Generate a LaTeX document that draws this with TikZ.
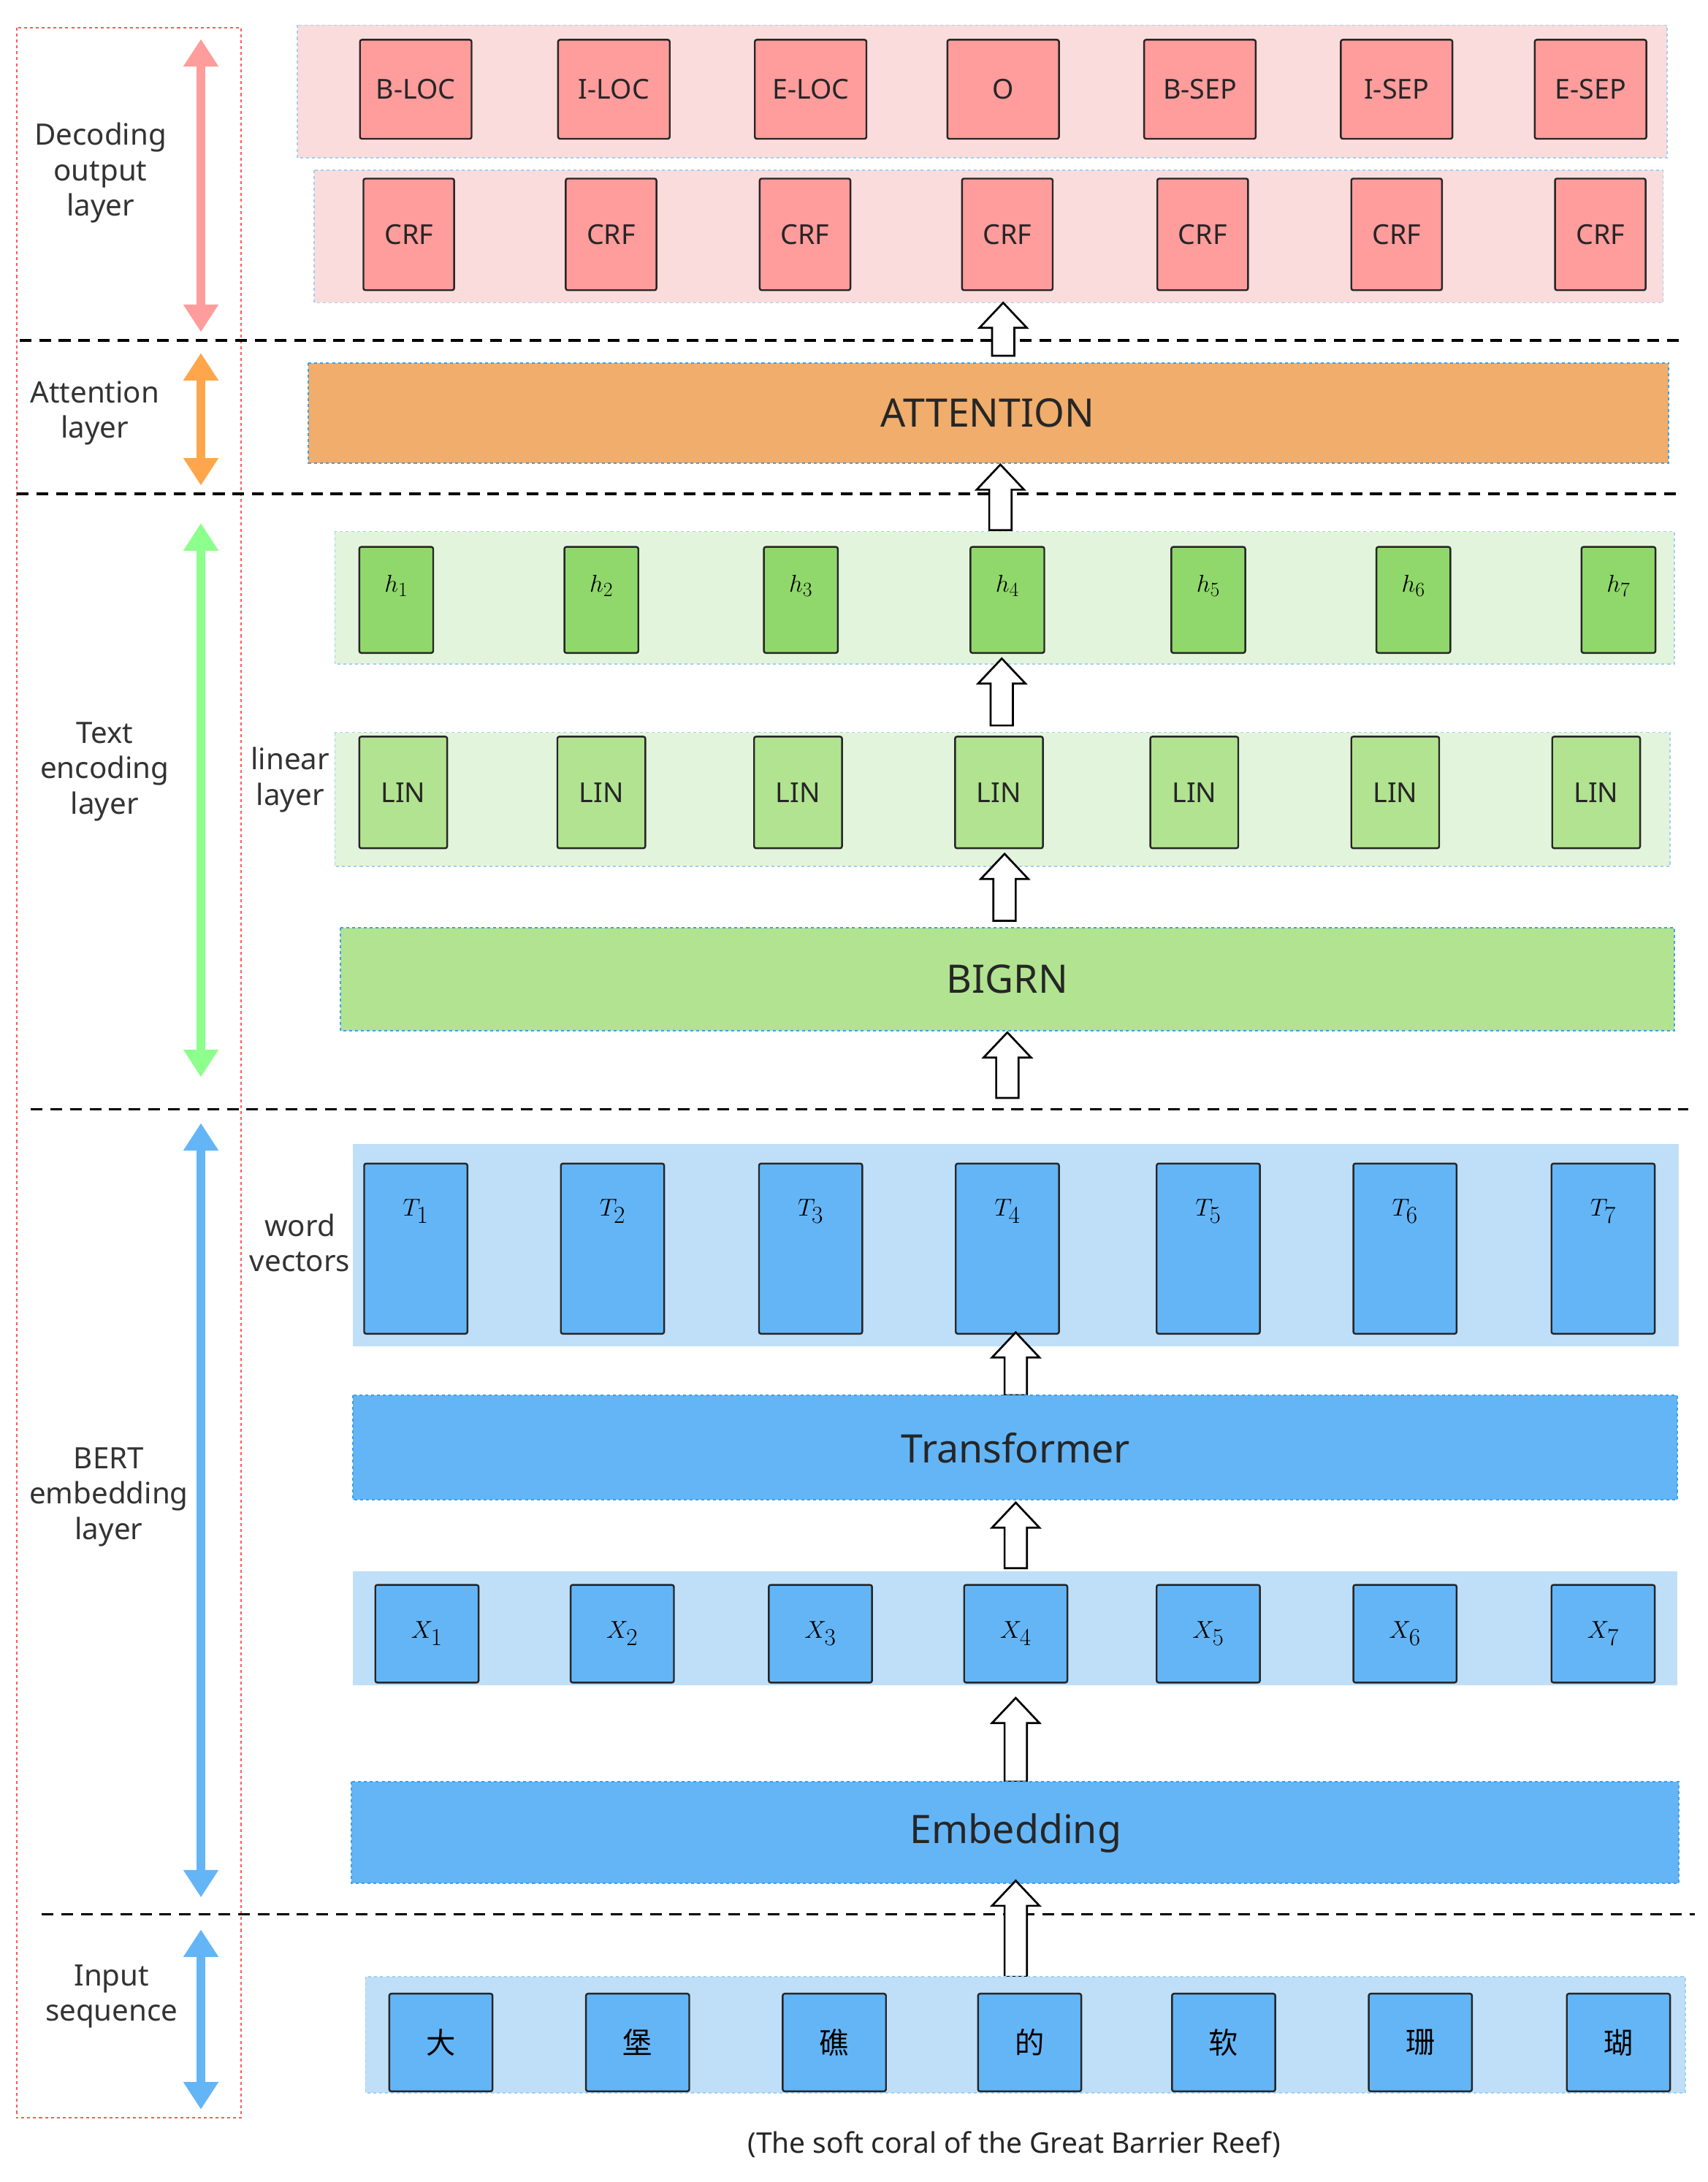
\documentclass[tikz,border=0pt]{standalone}
\usepackage{fontspec}
\setmainfont{Noto Sans}
\newfontfamily\cjk{Noto Sans CJK SC}
\usetikzlibrary{arrows.meta}
\definecolor{pinkbg}{HTML}{FADCDC}
\definecolor{salmon}{HTML}{FF9C9C}
\definecolor{orangeb}{HTML}{F0AD6B}
\definecolor{greenbg}{HTML}{E3F4DC}
\definecolor{greenb}{HTML}{B1E391}
\definecolor{greend}{HTML}{90D86B}
\definecolor{bluebg}{HTML}{BFDFF8}
\definecolor{blueb}{HTML}{64B5F6}
\definecolor{dashb}{HTML}{3F9FE8}
\tikzset{
 x=0.05cm,y=-0.05cm,
 bg/.style={draw=dashb!50,dashed,line width=1.2pt},
 big/.style={draw=dashb,dashed,line width=1.5pt},
 box/.style={draw=black!85,line width=1.8pt,rounded corners=2pt},
 lab/.style={font=\fontsize{30}{36}\selectfont\bfseries,align=center,text=black!80},
 btxt/.style={font=\fontsize{28}{34}\selectfont,text=black!85},
 bigt/.style={font=\fontsize{40}{48}\selectfont\bfseries,text=black!85},
 sep/.style={dashed,line width=2.5pt,dash pattern=on 12pt off 8pt},
 dar/.style={line width=9pt,{Triangle[length=28pt,width=34pt]}-{Triangle[length=28pt,width=34pt]}},
}
\newcommand{\harrow}[3]{\draw[line width=2pt,fill=white] (#1-8,#3)--(#1-8,#2+18)--(#1-17,#2+18)--(#1,#2)--(#1+17,#2+18)--(#1+8,#2+18)--(#1+8,#3)--cycle;}
\begin{document}
\begin{tikzpicture}
\useasboundingbox (0,0) rectangle (1224,1564);
% left frame
\draw[draw=red!65,dashed,line width=1.5pt] (12,20) rectangle (173,1518);
\draw[dar,draw=salmon] (144,28)--(144,238);
\draw[dar,draw=orange!70] (144,253)--(144,348);
\draw[dar,draw=green!45] (144,375)--(144,772);
\draw[dar,draw=blueb] (144,805)--(144,1360);
\draw[dar,draw=blueb] (144,1383)--(144,1512);
\node[lab] (l1) at (72,124) {Decoding\\output\\layer};
\node[lab] (l2) at (68,296) {Attention\\layer};
\node[lab] (l3) at (75,553) {Text\\encoding\\layer};
\node[lab] (l4) at (78,1073) {BERT\\embedding\\layer};
\node[lab] (l5) at (80,1431) {Input\\sequence};
\node[lab] (l6) at (208,559) {linear\\layer};
\node[lab] (l7) at (215,891) {word\\vectors};
% separators
\draw[sep] (14,244)--(1205,244);
\draw[sep] (12,354)--(1205,354);
\draw[sep] (22,795)--(1210,795);
\draw[sep] (30,1372)--(1215,1372);
% decoding output
\draw[bg,fill=pinkbg] (213,18) rectangle (1195,113);
\foreach \x/\t [count=\i] in {298/B-LOC,440/I-LOC,581/E-LOC,719/O,860/B-SEP,1001/I-SEP,1140/E-SEP}
 \node[box,fill=salmon,minimum width=80*0.05cm,minimum height=71*0.05cm,btxt] (o\i) at (\x,64) {\t};
\draw[bg,fill=pinkbg] (225,122) rectangle (1192,217);
\foreach \x [count=\i] in {293,438,577,722,862,1001,1147}
 \node[box,fill=salmon,minimum width=65*0.05cm,minimum height=80*0.05cm,btxt] (c\i) at (\x,168) {CRF};
\harrow{719}{217}{255}
% attention
\draw[big,fill=orangeb] (221,260) rectangle (1196,332);
\node[bigt] (att) at (708,296) {ATTENTION};
\harrow{717}{333}{380}
% h
\draw[bg,fill=greenbg] (240,381) rectangle (1200,476);
\foreach \x [count=\i] in {284,431,574,722,866,1013,1160}{
 \node[box,fill=greend,minimum width=53*0.05cm,minimum height=76*0.05cm] (h\i) at (\x,430) {};
 \node[font=\fontsize{30}{36}\selectfont] at (\x,420) {$h_{\i}$};}
\harrow{718}{472}{520}
% LIN
\draw[bg,fill=greenbg] (240,525) rectangle (1197,621);
\foreach \x [count=\i] in {289,431,572,716,856,1000,1144}
 \node[box,fill=greenb,minimum width=63*0.05cm,minimum height=80*0.05cm,btxt] (n\i) at (\x,568) {LIN};
\harrow{720}{612}{660}
% BIGRN
\draw[big,fill=greenb] (244,665) rectangle (1200,739);
\node[bigt] (bg) at (722,702) {BIGRN};
\harrow{722}{740}{787}
% T
\draw[draw=none,fill=bluebg] (253,820) rectangle (1203,965);
\foreach \x [count=\i] in {298,439,581,722,866,1007,1149}{
 \node[box,fill=blueb,minimum width=74*0.05cm,minimum height=122*0.05cm] (t\i) at (\x,895) {};
 \node[font=\fontsize{46}{50}\selectfont] at (\x,868) {$T_{\i}$};}
\harrow{728}{955}{1000}
\draw[big,fill=blueb] (253,1000) rectangle (1202,1075);
\node[bigt] (tr) at (728,1038) {Transformer};
\harrow{728}{1077}{1124}
% X
\draw[draw=none,fill=bluebg] (253,1126) rectangle (1202,1208);
\foreach \x [count=\i] in {306,446,588,728,866,1007,1149}
 \node[box,fill=blueb,minimum width=74*0.05cm,minimum height=70*0.05cm,font=\fontsize{46}{50}\selectfont] (x\i) at (\x,1171) {$X_{\i}$};
\harrow{728}{1217}{1277}
\draw[big,fill=blueb] (252,1277) rectangle (1203,1350);
\node[bigt] (em) at (728,1314) {Embedding};
\harrow{728}{1348}{1417}
% input
\draw[bg,fill=bluebg] (262,1417) rectangle (1208,1500);
\foreach \x/\c [count=\i] in {316/大,457/堡,598/礁,738/的,877/软,1018/珊,1160/瑚}
 \node[box,fill=blueb,minimum width=74*0.05cm,minimum height=70*0.05cm,font=\fontsize{30}{36}\selectfont\cjk] (in\i) at (\x,1464) {\c};
\node[font=\fontsize{29}{34}\selectfont\bfseries,text=black!85] (cap) at (727,1537) {(The soft coral of the Great Barrier Reef)};
\end{tikzpicture}
\end{document}
